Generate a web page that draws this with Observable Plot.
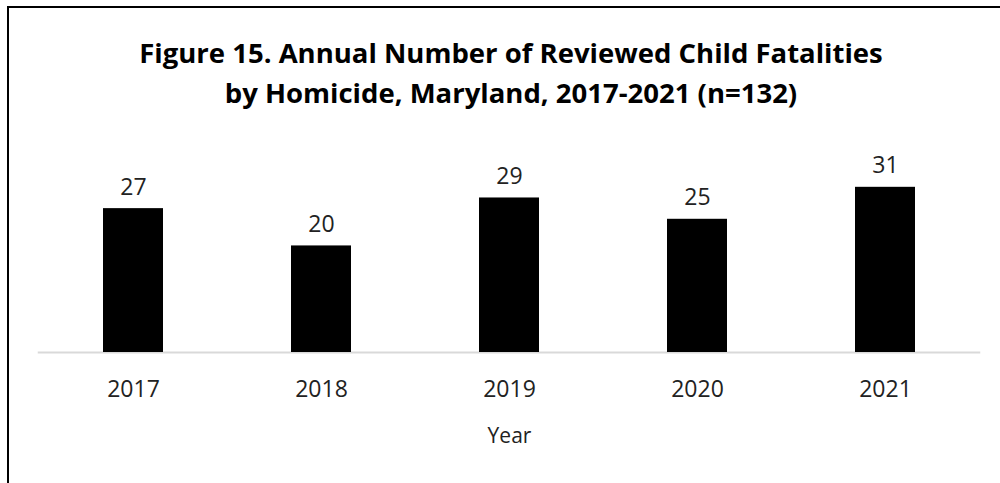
<!DOCTYPE html>
<html>
<head>
<meta charset="utf-8">
<script src="https://cdn.jsdelivr.net/npm/d3@7"></script>
<script src="https://cdn.jsdelivr.net/npm/@observablehq/plot@0.6"></script>
<style>
  html, body { margin: 0; padding: 0; background: #fff; }
  #wrap { position: relative; width: 1000px; height: 483px; overflow: hidden; font-family: "Open Sans", "Noto Sans", sans-serif; }
  #frame { position: absolute; left: 7px; top: 6px; width: 1000px; height: 600px; border-left: 2px solid #000; border-top: 2px solid #000; box-sizing: border-box; }
  #title { position: absolute; left: 11px; width: 1000px; top: 33px; text-align: center; font-weight: 700; font-size: 27.5px; line-height: 40px; color: #000; }
  #chart { position: absolute; left: 0; top: 0; }
</style>
</head>
<body>
<div id="wrap">
  <div id="frame"></div>
  <div id="chart"></div>
  <div id="title">Figure 15. Annual Number of Reviewed Child Fatalities<br>by Homicide, Maryland, 2017-2021 (n=132)</div>
</div>
<script>
const years = ["2017", "2018", "2019", "2020", "2021"];
const counts = [27, 20, 29, 25, 31];
const data = years.map((y, i) => ({year: y, count: counts[i]}));

const chart = Plot.plot({
  width: 1000,
  height: 483,
  marginLeft: 37.75,
  marginRight: 19.75,
  marginTop: 165.5,
  marginBottom: 131,
  style: {fontFamily: "'Open Sans', 'Noto Sans', sans-serif", background: "transparent", color: "#222"},
  x: {domain: years, paddingInner: 0.68, paddingOuter: 0.34, label: null},
  y: {domain: [0, 35], axis: null},
  marks: [
    Plot.ruleY([0], {stroke: "#d9d9d9", strokeWidth: 2}),
    Plot.barY(data, {x: "year", y: "count", fill: "#000"}),
    Plot.text(data, {x: "year", y: "count", text: d => String(d.count), lineAnchor: "bottom", dy: -14, fontSize: 23, fill: "#222"}),
    Plot.axisX({tickSize: 0, tickPadding: 28, fontSize: 23, fill: "#222", label: null}),
    Plot.text(["Year"], {frameAnchor: "bottom", dy: 90, fontSize: 21, fill: "#222"})
  ]
});
document.getElementById("chart").appendChild(chart);
</script>
</body>
</html>
